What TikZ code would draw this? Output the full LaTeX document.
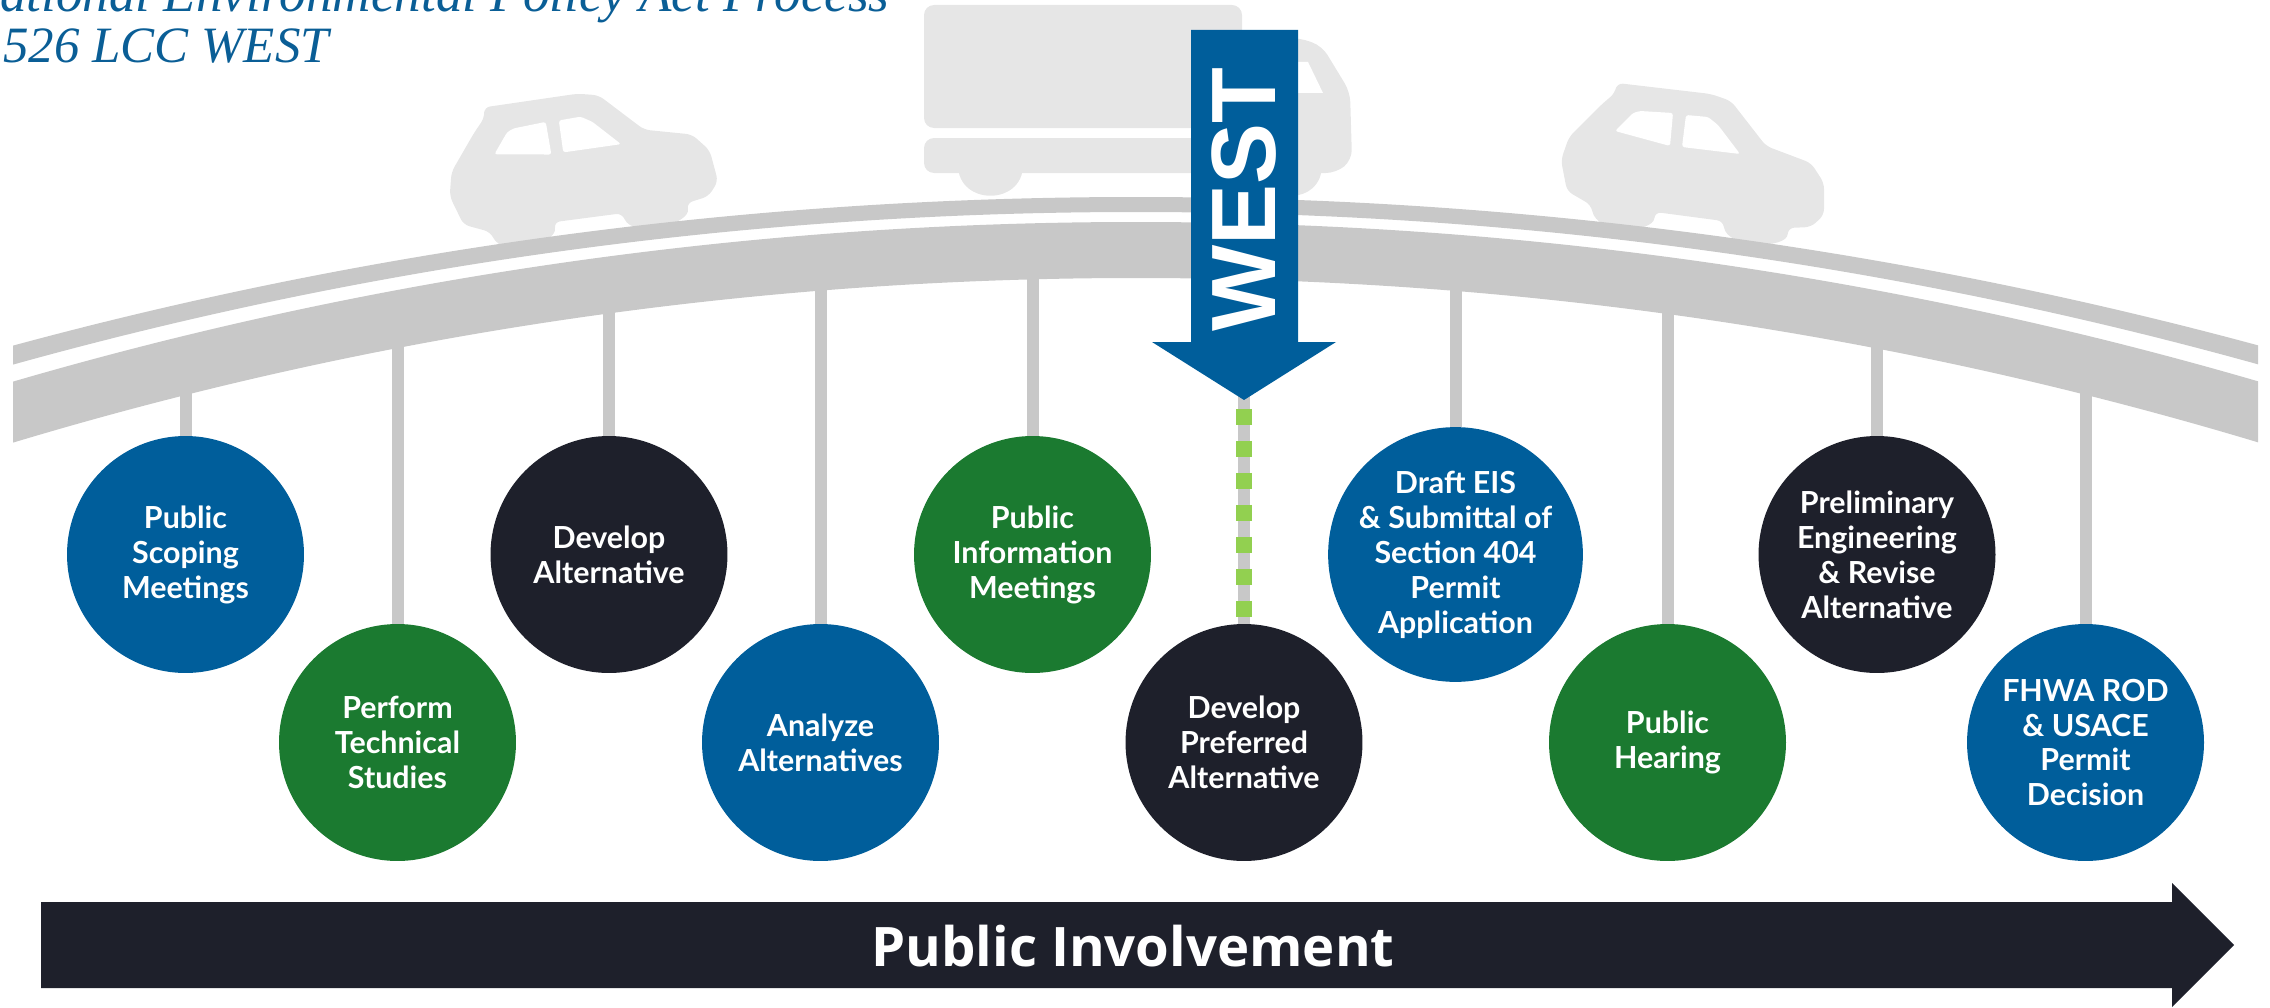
\documentclass[tikz,border=0pt]{standalone}
\usepackage{fontspec}
\newfontfamily\stagefont{Lato}
\newfontfamily\signfont{Liberation Sans}
\newfontfamily\barfont{Open Sans}
\newfontfamily\headfont{Liberation Serif}

\definecolor{stepblue}{HTML}{005E9B}
\definecolor{stepgreen}{HTML}{1B7A30}
\definecolor{stepdark}{HTML}{1E202B}
\definecolor{bridgegray}{HTML}{C8C8C8}
\definecolor{vehiclegray}{HTML}{E6E6E6}
\definecolor{dashgreen}{HTML}{92D050}
\definecolor{headblue}{HTML}{0A5E96}

\pgfdeclarelayer{back}
\pgfdeclarelayer{deck}
\pgfsetlayers{back,deck,main}

\tikzset{
  stage/.style={circle, inner sep=0pt, minimum size=4.74cm, align=center,
    text=white, font=\stagefont\bfseries\fontsize{17.3}{19.9}\selectfont},
  bluestage/.style={stage, fill=stepblue},
  greenstage/.style={stage, fill=stepgreen},
  darkstage/.style={stage, fill=stepdark},
  pole/.style={draw=bridgegray, line width=0.24cm},
  vehicle/.style={fill=vehiclegray},
  pics/sedan/.style={code={
    \path[vehicle, rounded corners=0.12cm]
      (-78,-70) -- (-76,-80) -- (18,-69) -- (38,-62) -- (73,-17) -- (118,0)
      -- (131,20) -- (131,52) -- (118,64) -- (95,65)
      .. controls (94,86) and (34,86) .. (30,58) -- (-38,49)
      .. controls (-40,70) and (-96,72) .. (-102,42)
      -- (-126,28) -- (-132,-3) -- (-124,-26) -- (-92,-58) -- cycle;
    \fill[white, rounded corners=0.05cm]
      (-78,-32) -- (-60,-50) -- (-53,-52) -- (-20,-50) -- (-23,-17) -- cycle;
    \fill[white, rounded corners=0.05cm]
      (-7,-48) -- (15,-46) -- (25,-38) -- (47,-9) -- (-11,-16) -- cycle;
  }}
}

\begin{document}
\begin{tikzpicture}[x=0.02cm, y=-0.02cm]
\useasboundingbox (0,0) rectangle (2270,1007);
\clip (0,0) rectangle (2270,1007);

% heading
\node[anchor=base west, inner sep=0pt, text=headblue,
      font=\headfont\itshape\fontsize{30.2}{30.2}\selectfont] (studyname) at (0,12)
      {ational Environmental Policy Act Process};
\node[anchor=base west, inner sep=0pt, text=headblue,
      font=\headfont\itshape\fontsize{29}{29}\selectfont] (projname) at (3,63)
      {526 LCC WEST};

% vehicles on the bridge
\begin{pgfonlayer}{back}
  \pic[rotate=15] at (578,165) {sedan};
  \pic at (1693,163) {sedan};
  % truck
  \path[vehicle, rounded corners=0.2cm] (924,5) rectangle (1242,128);
  \path[vehicle, rounded corners=0.2cm]
    (924,138) -- (1240,138) -- (1240,38) -- (1300,38) -- (1322,46)
    -- (1350,92) -- (1352,160) -- (1336,173) -- (924,173) -- cycle;
  \path[vehicle] (958,165) .. controls (958,206) and (1023,206) .. (1023,165) -- cycle;
  \path[vehicle] (1262,165) .. controls (1262,206) and (1322,206) .. (1322,165) -- cycle;
  \fill[white] (1255,62) -- (1308,62) -- (1323,93) -- (1255,93) -- cycle;
\end{pgfonlayer}

% bridge deck
\begin{pgfonlayer}{deck}
  \begin{scope}
    \clip (13,0) rectangle (2258,470);
    \fill[bridgegray, even odd rule]
      (1136,4483) circle[radius=4286] (1136,4391) circle[radius=4179];
    \fill[bridgegray, even odd rule]
      (1136,4226) circle[radius=4004] (1136,4166) circle[radius=3888];
  \end{scope}
\end{pgfonlayer}

% process stages
\node[bluestage]  (s1)  at (185.5,554.5)  {Public\\Scoping\\Meetings};
\node[greenstage] (s2)  at (397.5,742.5)  {Perform\\Technical\\Studies};
\node[darkstage]  (s3)  at (609,554.5)    {Develop\\Alternative};
\node[bluestage]  (s4)  at (820.5,742.5)  {Analyze\\Alternatives};
\node[greenstage] (s5)  at (1032.5,554.5) {Public\\Information\\Meetings};
\node[darkstage]  (s6)  at (1244,742.5)   {Develop\\Preferred\\Alternative};
\node[bluestage]  (s7)  at (1455.5,554.5) {Draft EIS\\\& Submittal of\\Section 404\\Permit\\Application};
\node[greenstage] (s8)  at (1667.5,742.5) {Public\\Hearing};
\node[darkstage]  (s9)  at (1877,554.5)   {Preliminary\\Engineering\\\& Revise\\Alternative};
\node[bluestage]  (s10) at (2085.5,742.5) {FHWA ROD\\\& USACE\\Permit\\Decision};

% hangers from the deck
\coordinate (t1)  at (185.5,386);
\coordinate (t2)  at (397.5,339);
\coordinate (t3)  at (609,304);
\coordinate (t4)  at (820.5,281);
\coordinate (t5)  at (1032.5,269);
\coordinate (t6)  at (1244,269);
\coordinate (t7)  at (1455.5,281);
\coordinate (t8)  at (1667.5,304);
\coordinate (t9)  at (1877,339);
\coordinate (t10) at (2085.5,386);
\begin{pgfonlayer}{back}
  \foreach \i in {1,...,10} \draw[pole] (t\i) -- (s\i);
\end{pgfonlayer}

% direction marker
\coordinate (westtip) at (1244,400);
\fill[stepblue] (1191,30) -- (1298,30) -- (1298,342) -- (1336,342) -- (westtip)
  -- (1152,342) -- (1191,342) -- cycle;
\node[rotate=90, inner sep=0pt, text=white,
      font=\signfont\bfseries\fontsize{52}{52}\selectfont] (westlabel) at (1244,200) {WEST};
\draw[dashgreen, line width=0.32cm, dash pattern=on 0.32cm off 0.32cm, dash phase=0.46cm]
  (westtip) -- (s6);

% public involvement bar
\fill[stepdark] (41,902) -- (2172,902) -- (2172,883) -- (2234,945) -- (2172,1007)
  -- (2172,988) -- (41,988) -- cycle;
\node[text=white, inner sep=0pt, font=\barfont\bfseries\fontsize{31}{31}\selectfont]
  (involvement) at (1133,946) {Public Involvement};
\end{tikzpicture}
\end{document}
